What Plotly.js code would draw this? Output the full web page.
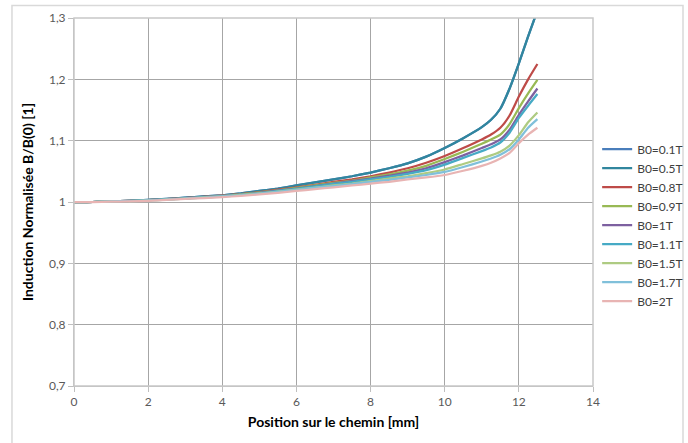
<!DOCTYPE html>
<html>
<head>
<meta charset="utf-8">
<script src="https://cdn.plot.ly/plotly-3.0.1.min.js"></script>
<style>html,body{margin:0;padding:0;background:#fff;}#chart{width:688px;height:443px;}</style>
</head>
<body>
<div id="chart"></div>
<script>
// Position along the path [mm]
const position = [0, 0.5, 1, 1.5, 2, 2.5, 3, 3.5, 4, 4.5, 5, 5.5, 6, 6.5, 7, 7.5, 8, 8.5, 9, 9.5, 10, 10.5, 11, 11.25, 11.5, 11.75, 12, 12.25, 12.5];

const seriesNames = ["B0=0.1T", "B0=0.5T", "B0=0.8T", "B0=0.9T", "B0=1T", "B0=1.1T", "B0=1.5T", "B0=1.7T", "B0=2T"];

const b01 = [1.000, 1.000, 1.001, 1.002, 1.0035, 1.005, 1.007, 1.009, 1.011, 1.014, 1.018, 1.022, 1.027, 1.032, 1.037, 1.042, 1.048, 1.055, 1.063, 1.074, 1.088, 1.104, 1.122, 1.134, 1.152, 1.185, 1.226, 1.270, 1.312];
const b05 = [1.000, 1.000, 1.001, 1.002, 1.0035, 1.005, 1.007, 1.009, 1.011, 1.014, 1.018, 1.022, 1.027, 1.032, 1.037, 1.042, 1.048, 1.055, 1.063, 1.074, 1.088, 1.104, 1.122, 1.134, 1.152, 1.185, 1.226, 1.270, 1.312];
const b08 = [1.000, 1.000, 1.001, 1.002, 1.003, 1.0045, 1.0065, 1.0085, 1.0105, 1.013, 1.016, 1.020, 1.024, 1.028, 1.033, 1.037, 1.042, 1.048, 1.055, 1.064, 1.075, 1.088, 1.102, 1.110, 1.121, 1.141, 1.172, 1.200, 1.225];
const b09 = [1.000, 1.000, 1.001, 1.002, 1.003, 1.0045, 1.006, 1.008, 1.010, 1.0125, 1.0155, 1.019, 1.023, 1.027, 1.031, 1.035, 1.040, 1.045, 1.051, 1.059, 1.070, 1.082, 1.095, 1.102, 1.110, 1.127, 1.153, 1.177, 1.199];
const b1  = [1.000, 1.000, 1.001, 1.002, 1.003, 1.0045, 1.006, 1.008, 1.010, 1.012, 1.015, 1.0185, 1.022, 1.026, 1.030, 1.034, 1.038, 1.043, 1.048, 1.055, 1.065, 1.076, 1.088, 1.094, 1.102, 1.118, 1.142, 1.164, 1.185];
const b11 = [1.000, 1.000, 1.001, 1.002, 1.003, 1.0045, 1.006, 1.008, 1.0095, 1.012, 1.0145, 1.018, 1.0215, 1.0255, 1.0295, 1.033, 1.037, 1.041, 1.046, 1.052, 1.061, 1.072, 1.083, 1.089, 1.097, 1.113, 1.137, 1.157, 1.176];
const b15 = [1.000, 1.000, 1.001, 1.0015, 1.0025, 1.004, 1.0055, 1.0075, 1.009, 1.0115, 1.014, 1.017, 1.020, 1.0235, 1.027, 1.030, 1.034, 1.038, 1.042, 1.047, 1.053, 1.062, 1.071, 1.076, 1.082, 1.092, 1.109, 1.130, 1.146];
const b17 = [1.000, 1.000, 1.001, 1.0015, 1.0025, 1.004, 1.0055, 1.007, 1.009, 1.011, 1.0135, 1.0165, 1.0195, 1.023, 1.026, 1.029, 1.033, 1.036, 1.040, 1.044, 1.049, 1.057, 1.066, 1.071, 1.077, 1.086, 1.102, 1.121, 1.135];
const b2  = [1.000, 1.000, 1.0005, 1.001, 1.002, 1.0035, 1.005, 1.0065, 1.008, 1.010, 1.0125, 1.015, 1.018, 1.021, 1.024, 1.027, 1.030, 1.033, 1.037, 1.040, 1.044, 1.051, 1.059, 1.064, 1.071, 1.080, 1.096, 1.110, 1.121];

const seriesValues = [b01, b05, b08, b09, b1, b11, b15, b17, b2];
const seriesColors = ["#4A7EBB", "#31869E", "#BE4B48", "#98B954", "#7D60A0", "#46AAC5", "#AECB82", "#80C0DA", "#E8B4B3"];

const xTicks = [0, 2, 4, 6, 8, 10, 12, 14];
const yTicks = [0.7, 0.8, 0.9, 1.0, 1.1, 1.2, 1.3];

const traces = seriesNames.map((name, i) => ({
  x: position,
  y: seriesValues[i],
  name: name,
  type: "scatter",
  mode: "lines",
  line: {color: seriesColors[i], width: 2.25, shape: "spline", smoothing: 0.5}
}));

const font = "Lato, 'Liberation Sans', Arial, sans-serif";

const layout = {
  width: 688,
  height: 443,
  separators: ", ",
  paper_bgcolor: "#ffffff",
  plot_bgcolor: "#ffffff",
  margin: {l: 74, r: 95, t: 18, b: 57, autoexpand: false},
  font: {family: font, size: 11, color: "#595959"},
  showlegend: true,
  legend: {
    x: 1.008, xanchor: "left", y: 0.4375, yanchor: "middle",
    font: {family: font, size: 12, color: "#404040"},
    bgcolor: "rgba(0,0,0,0)",
    itemwidth: 30,
    tracegroupgap: 0
  },
  xaxis: {
    range: [0, 14],
    tickvals: xTicks,
    ticks: "outside", ticklen: 5, tickcolor: "#bfbfbf",
    showgrid: true, gridcolor: "#a6a6a6", gridwidth: 1,
    showline: true, linecolor: "#bfbfbf", linewidth: 1, mirror: false,
    zeroline: false,
    tickfont: {family: font, size: 12, color: "#595959"},
    title: {text: "Position sur le chemin [mm]", font: {family: font, size: 14, color: "#000000", weight: "bold"}, standoff: 8}
  },
  yaxis: {
    range: [0.7, 1.3],
    tickvals: yTicks,
    ticks: "outside", ticklen: 5, tickcolor: "#bfbfbf",
    showgrid: true, gridcolor: "#a6a6a6", gridwidth: 1,
    showline: true, linecolor: "#bfbfbf", linewidth: 1,
    zeroline: false,
    tickfont: {family: font, size: 12, color: "#595959"},
    title: {text: "Induction Normalisée B/B(0) [1]", font: {family: font, size: 14, color: "#000000", weight: "bold"}, standoff: 12}
  },
  shapes: [
    {type: "rect", xref: "paper", yref: "paper", x0: 0, x1: 1, y0: 0, y1: 1,
     line: {color: "#c8c8c8", width: 1.5}, fillcolor: "rgba(0,0,0,0)", layer: "above"},
    {type: "rect", xref: "paper", yref: "paper", x0: -0.1195, x1: 1.1734, y0: -0.17, y1: 1.034,
     line: {color: "#d9d9d9", width: 1.5}, fillcolor: "rgba(0,0,0,0)", layer: "below"}
  ]
};

Plotly.newPlot("chart", traces, layout, {displayModeBar: false, staticPlot: true});
</script>
</body>
</html>
